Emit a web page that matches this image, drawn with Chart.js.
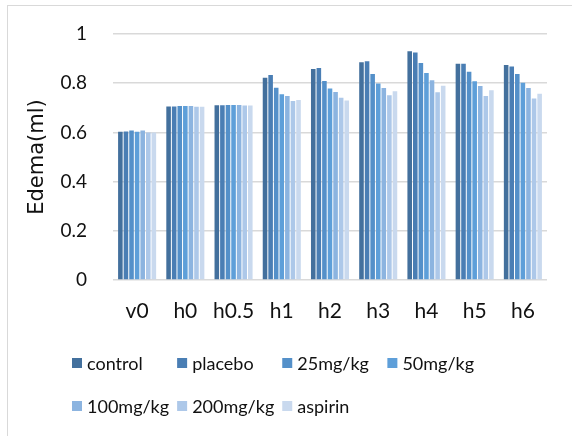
<!DOCTYPE html>
<html>
<head>
<meta charset="utf-8">
<script src="https://cdn.jsdelivr.net/npm/chart.js@4.4.0/dist/chart.umd.min.js"></script>
<style>
  html, body { margin: 0; padding: 0; background: #fff; }
  #wrap { position: relative; width: 572px; height: 436px; overflow: hidden; }
  #frame { position: absolute; left: 7px; top: 5px; width: 700px; height: 600px;
           border-left: 1.5px solid #d9d9d9; border-top: 1.5px solid #d9d9d9; }
  canvas { position: absolute; left: 0; top: 0; }
</style>
</head>
<body>
<div id="wrap">
  <div id="frame"></div>
  <canvas id="c" width="572" height="436"></canvas>
</div>
<script>
const categories = ['v0', 'h0', 'h0.5', 'h1', 'h2', 'h3', 'h4', 'h5', 'h6'];
const control  = [0.603, 0.705, 0.710, 0.822, 0.858, 0.885, 0.930, 0.879, 0.874];
const placebo  = [0.604, 0.705, 0.710, 0.833, 0.862, 0.889, 0.925, 0.879, 0.868];
const mg25     = [0.608, 0.707, 0.711, 0.782, 0.809, 0.837, 0.882, 0.847, 0.837];
const mg50     = [0.603, 0.707, 0.711, 0.755, 0.778, 0.799, 0.841, 0.808, 0.802];
const mg100    = [0.608, 0.707, 0.711, 0.748, 0.764, 0.780, 0.812, 0.789, 0.780];
const mg200    = [0.600, 0.704, 0.709, 0.728, 0.741, 0.751, 0.763, 0.748, 0.738];
const aspirin  = [0.600, 0.704, 0.709, 0.732, 0.730, 0.767, 0.790, 0.771, 0.757];
const seriesLabels = ['control', 'placebo', '25mg/kg', '50mg/kg', '100mg/kg', '200mg/kg', 'aspirin'];
const seriesColors = ['#43709D', '#4A7EB4', '#5490C9', '#5E9FD9', '#8CB4E0', '#ADC8E9', '#C9D9EE'];
const yTitle = 'Edema(ml)';

const seriesValues = [control, placebo, mg25, mg50, mg100, mg200, aspirin];

const gridLegend = {
  id: 'gridLegend',
  afterDraw(chart, args, opts) {
    const ctx = chart.ctx;
    ctx.save();
    ctx.font = opts.font;
    const items = chart.data.datasets.map(d => ({ text: d.label, color: d.backgroundColor }));
    const maxW = Math.max(...items.map(it => ctx.measureText(it.text).width));
    const colW = opts.box + opts.gap + maxW + opts.spacing;
    const cols = Math.max(1, Math.floor(opts.width / colW));
    ctx.textBaseline = 'middle';
    ctx.textAlign = 'left';
    items.forEach((it, i) => {
      const c = i % cols, r = Math.floor(i / cols);
      const x = opts.left + c * colW;
      const y = opts.top + r * opts.rowHeight;
      ctx.fillStyle = it.color;
      ctx.fillRect(x, y - opts.box / 2, opts.box, opts.box);
      ctx.fillStyle = opts.color;
      ctx.fillText(it.text, x + opts.box + opts.gap, y + 1);
    });
    ctx.restore();
  }
};

new Chart(document.getElementById('c'), {
  type: 'bar',
  data: {
    labels: categories,
    datasets: seriesLabels.map((lab, i) => ({
      label: lab,
      data: seriesValues[i],
      backgroundColor: seriesColors[i],
      borderWidth: 0,
      categoryPercentage: 0.81,
      barPercentage: 0.82
    }))
  },
  options: {
    responsive: false,
    animation: false,
    layout: { padding: { left: 20, right: 25, top: 34, bottom: 106 } },
    plugins: {
      legend: { display: false },
      tooltip: { enabled: false },
      gridLegend: {
        font: '18px Lato', color: '#111',
        left: 72, top: 363, rowHeight: 43, box: 10, gap: 5, spacing: 8, width: 430
      }
    },
    scales: {
      x: {
        grid: { display: false },
        border: { display: false },
        ticks: { color: '#111', font: { family: 'Lato', size: 21 }, padding: 11, maxRotation: 0 },
        afterFit(scale) { scale.height = 50; }
      },
      y: {
        min: 0, max: 1,
        border: { display: false },
        grid: { color: '#d9d9d9', lineWidth: 1.5, drawTicks: false },
        ticks: {
          stepSize: 0.2, color: '#111', font: { family: 'Lato', size: 19 }, padding: 26,
          callback: (v) => String(Math.round(v * 10) / 10)
        },
        title: {
          display: true, text: yTitle, color: '#111',
          font: { family: 'DejaVu Sans', size: 21 }, padding: { top: 5, bottom: 0 }
        },
        afterFit(scale) {
          scale.width = 93;
          scale.paddingTop = 12;
          scale.paddingBottom = 12;
        }
      }
    }
  },
  plugins: [gridLegend]
});
</script>
</body>
</html>
